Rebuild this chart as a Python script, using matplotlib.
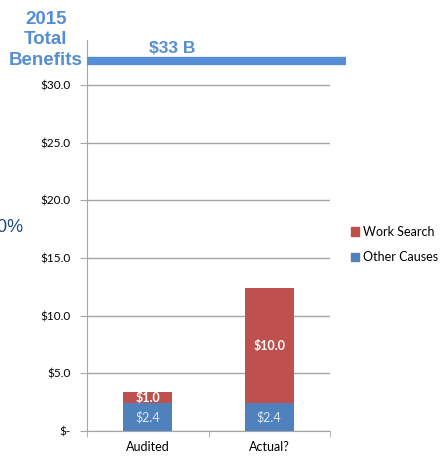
import matplotlib
matplotlib.use("Agg")
import matplotlib.pyplot as plt
from matplotlib.patches import Patch

categories = ["Audited", "Actual?"]
other_causes = [2.4, 2.4]
work_search = [1.0, 10.0]
series_names = ["Work Search", "Other Causes"]
yticks = [0, 5, 10, 15, 20, 25, 30]
ytick_labels = ["$-", "$5.0", "$10.0", "$15.0", "$20.0", "$25.0", "$30.0"]
total_label = "$33 B"
total_line_level = 32.1

RED = "#C0504D"
BLUE = "#4F81BD"
HILITE = "#558ED5"
GRID = "#A6A6A6"
FONT = ["Lato", "DejaVu Sans"]
ARIAL = ["Liberation Sans", "DejaVu Sans"]

fig = plt.figure(figsize=(4.43, 4.57), dpi=100)
ax = fig.add_axes([87/443, 1-431/457, (330-87)/443, (431-40)/457])

x = list(range(len(categories)))
w = 0.4
ax.bar(x, other_causes, width=w, color=BLUE, zorder=3)
ax.bar(x, work_search, width=w, bottom=other_causes, color=RED, zorder=3)

for i in x:
    ax.text(i, other_causes[i]/2, f"${other_causes[i]:.1f}", ha="center", va="center",
            color="#DCE6F2", fontsize=9, family=FONT, zorder=4)
    ax.text(i, other_causes[i] + work_search[i]/2, f"${work_search[i]:.1f}", ha="center",
            va="center", color="white", fontsize=9, fontweight="bold", family=FONT, zorder=4)

ax.set_xlim(-0.5, 1.5)
ax.set_ylim(0, 33.9)
ax.set_yticks(yticks)
ax.set_yticklabels(ytick_labels, family=FONT, fontsize=8.5)
ax.set_xticks(x)
ax.set_xticklabels(categories, family=FONT, fontsize=9)
ax.set_xticks([-0.5, 0.5, 1.5], minor=True)
ax.tick_params(axis="x", which="major", length=0, pad=7)
ax.tick_params(axis="x", which="minor", length=4, color=GRID, direction="out")
ax.tick_params(axis="y", length=5, color=GRID, direction="out", pad=7)
ax.yaxis.grid(True, color=GRID, linewidth=1, zorder=0)
for s in ["top", "right"]:
    ax.spines[s].set_visible(False)
for s in ["left", "bottom"]:
    ax.spines[s].set_color(GRID)

# total benefits highlight line
ax.plot([-0.5, 1.63], [total_line_level, total_line_level], color=HILITE, linewidth=6,
        clip_on=False, zorder=5, solid_capstyle="butt")
ax.text(0.2, total_line_level + 0.45, total_label, ha="center", va="bottom", color=HILITE,
        fontsize=12.5, fontweight="bold", family=ARIAL)

fig.text(46/443, 1-40/457, "2015\nTotal\nBenefits", ha="center", va="center", color=HILITE,
         fontsize=13.5, fontweight="bold", family=ARIAL, linespacing=1.27)
fig.text(-12/443, 1-228/457, "10%", ha="left", va="center", color="#1F4E79", fontsize=13,
         family=ARIAL)

handles = [Patch(color=RED), Patch(color=BLUE)]
fig.legend(handles, series_names, loc="center left", bbox_to_anchor=(351/443, 1-244.5/457),
           frameon=False, prop={"family": FONT, "size": 9}, handlelength=0.65, handleheight=0.65,
           handletextpad=0.3, labelspacing=1.05, borderaxespad=0, borderpad=0)

fig.savefig("out.png", dpi=100)
